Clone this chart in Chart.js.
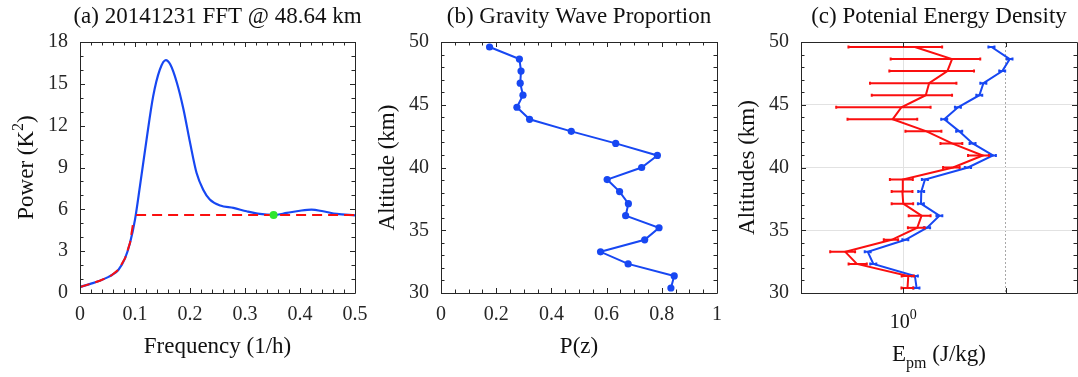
<!DOCTYPE html>
<html>
<head>
<meta charset="utf-8">
<script src="https://cdn.jsdelivr.net/npm/chart.js@4.4.1/dist/chart.umd.min.js"></script>
<style>
  html, body { margin: 0; padding: 0; background: #fff; }
  body { width: 1078px; height: 377px; position: relative; overflow: hidden; }
  canvas { position: absolute; top: 0; }
</style>
</head>
<body>
<canvas id="fft" style="left:0px" width="380" height="377"></canvas>
<canvas id="prop" style="left:361px" width="380" height="377"></canvas>
<canvas id="epm" style="left:721px" width="357" height="377"></canvas>
<script>
// (a) FFT spectrum
const freqA = [0, 0.02, 0.036, 0.05, 0.058, 0.07, 0.082, 0.091, 0.1, 0.109, 0.121, 0.133, 0.145, 0.156,
  0.164, 0.176, 0.188, 0.2, 0.212, 0.224, 0.236, 0.255, 0.279, 0.303, 0.327, 0.352, 0.376, 0.4, 0.421,
  0.442, 0.467, 0.5];
const powerA = [0.43, 0.67, 0.88, 1.12, 1.29, 1.67, 2.5, 3.6, 5.26, 7.66, 11.0, 14.1, 16.0, 16.7,
  16.4, 15.1, 13.2, 10.8, 8.6, 7.4, 6.7, 6.27, 6.1, 5.86, 5.67, 5.6, 5.74, 5.9, 5.98,
  5.86, 5.67, 5.57];
const cutFreqA = [0, 0.02, 0.036, 0.05, 0.058, 0.07, 0.082, 0.091, 0.097, null, 0.102, 0.5];
const cutPowerA = [0.43, 0.67, 0.88, 1.12, 1.29, 1.67, 2.5, 3.6, 5.14, null, 5.6, 5.6];
const markA = [0.352, 5.6];

// (b) gravity wave proportion
const altitudes = [30.40, 31.36, 32.32, 33.28, 34.24, 35.20, 36.16, 37.12, 38.08, 39.04, 40.00,
  40.96, 41.92, 42.88, 43.84, 44.80, 45.76, 46.72, 47.68, 48.64, 49.60];
const propB = [0.833, 0.845, 0.678, 0.578, 0.738, 0.79, 0.669, 0.679, 0.647, 0.602, 0.727,
  0.784, 0.633, 0.472, 0.321, 0.275, 0.297, 0.287, 0.29, 0.284, 0.176];

// (c) potential energy density
const epmBlue = [1.35, 1.30, 0.51, 0.45, 1.05, 1.71, 2.26, 1.49, 1.50, 1.63, 4.3,
  7.55, 4.77, 3.53, 2.52, 3.43, 5.55, 6.08, 9.3, 11.0, 7.3];
const epmBlueLo = [1.26, 1.21, 0.475, 0.42, 0.98, 1.59, 2.11, 1.39, 1.40, 1.52, 4.0,
  7.05, 4.45, 3.29, 2.35, 3.2, 5.18, 5.67, 8.68, 10.3, 6.8];
const epmBlueHi = [1.44, 1.39, 0.545, 0.48, 1.12, 1.83, 2.41, 1.59, 1.60, 1.74, 4.6,
  8.05, 5.09, 3.77, 2.69, 3.66, 5.92, 6.49, 9.92, 11.7, 7.8];
const epmRed = [1.10, 1.12, 0.352, 0.271, 0.77, 1.37, 1.51, 1.0, 0.98, 0.99, 3.07,
  6.0, 3.0, 1.69, 0.787, 0.96, 1.66, 1.79, 2.70, 3.0, 1.30];
const epmRedLo = [0.96, 0.965, 0.292, 0.193, 0.645, 1.11, 1.13, 0.77, 0.77, 0.74, 2.45,
  4.3, 2.31, 1.05, 0.285, 0.221, 0.492, 0.473, 0.731, 0.753, 0.291];
const epmRedHi = [1.25, 1.27, 0.44, 0.338, 0.89, 1.62, 1.85, 1.25, 1.23, 1.24, 3.56,
  6.88, 3.78, 2.36, 1.37, 1.85, 3.0, 3.31, 4.92, 5.66, 2.40];
const ticksC = [1, 10];

const SERIF = '"Liberation Serif", "Times New Roman", serif';
const INK = '#262626';
const BLUE = '#1747f2';
const RED = '#fa0f0f';

function pts(xs, ys) {
  return xs.map((x, i) => ({ x: x, y: ys[i] }));
}

// draw a run of text pieces with their own size and vertical shift
function drawParts(ctx, parts, x, y) {
  let total = 0;
  parts.forEach(p => {
    ctx.font = p.size + 'px ' + SERIF;
    p.w = ctx.measureText(p.t).width;
    total += p.w;
  });
  let cx = x - total / 2;
  parts.forEach(p => {
    ctx.font = p.size + 'px ' + SERIF;
    ctx.fillText(p.t, cx, y + (p.dy || 0));
    cx += p.w;
  });
}

const labels = {
  id: 'labels',
  afterDraw(chart, args, opts) {
    const { ctx, chartArea: a } = chart;
    const mid = (a.left + a.right) / 2;
    ctx.save();
    ctx.fillStyle = '#111';
    ctx.textAlign = 'left';
    ctx.textBaseline = 'alphabetic';
    drawParts(ctx, [{ t: opts.title, size: 23 }], mid, 23);
    drawParts(ctx, opts.xlabel, mid, opts.xlabelY || 353);
    if (opts.xtick) drawParts(ctx, opts.xtick.parts, chart.scales.x.getPixelForValue(opts.xtick.value), 328);
    ctx.translate(a.left - 47, (a.top + a.bottom) / 2);
    ctx.rotate(-Math.PI / 2);
    drawParts(ctx, opts.ylabel, 0, 0);
    ctx.restore();
  }
};

// box with inward ticks on all four sides
const frame = {
  id: 'frame',
  afterDraw(chart, args, opts) {
    const { ctx, chartArea: a, scales: { x, y } } = chart;
    ctx.save();
    ctx.strokeStyle = INK;
    ctx.lineWidth = 1;
    ctx.beginPath();
    const tick = (px, horiz, len) => {
      if (horiz) {
        ctx.moveTo(px, a.bottom); ctx.lineTo(px, a.bottom - len);
        ctx.moveTo(px, a.top); ctx.lineTo(px, a.top + len);
      } else {
        ctx.moveTo(a.left, px); ctx.lineTo(a.left + len, px);
        ctx.moveTo(a.right, px); ctx.lineTo(a.right - len, px);
      }
    };
    const xs = opts.xMajor || x.ticks.map(t => t.value);
    xs.forEach(v => tick(Math.round(x.getPixelForValue(v)) + 0.5, true, 5));
    y.ticks.forEach(t => tick(Math.round(y.getPixelForValue(t.value)) + 0.5, false, 5));
    if (opts.xMinor) {
      for (let v = x.min; v <= x.max + 1e-9; v += opts.xMinor) tick(Math.round(x.getPixelForValue(v)) + 0.5, true, 3.5);
    }
    if (opts.yMinor) {
      for (let v = y.min; v <= y.max + 1e-9; v += opts.yMinor) tick(Math.round(y.getPixelForValue(v)) + 0.5, false, 3.5);
    }
    ctx.rect(Math.round(a.left) + 0.5, Math.round(a.top) + 0.5, Math.round(a.right - a.left), Math.round(a.bottom - a.top));
    ctx.stroke();
    ctx.restore();
  }
};

const errorBars = {
  id: 'errorBars',
  afterDatasetDraw(chart, args) {
    const ds = chart.data.datasets[args.index];
    if (!ds.lo) return;
    const { ctx, scales: { x, y } } = chart;
    ctx.save();
    ctx.strokeStyle = ds.borderColor;
    ctx.lineWidth = 2;
    ctx.beginPath();
    ds.lo.forEach((lo, i) => {
      const yy = y.getPixelForValue(ds.data[i].y);
      const x0 = x.getPixelForValue(lo);
      const x1 = x.getPixelForValue(ds.hi[i]);
      ctx.moveTo(x0, yy); ctx.lineTo(x1, yy);
      ctx.moveTo(x0, yy - 1.5); ctx.lineTo(x0, yy + 1.5);
      ctx.moveTo(x1, yy - 1.5); ctx.lineTo(x1, yy + 1.5);
    });
    ctx.stroke();
    ctx.restore();
  }
};

const tickFont = { family: SERIF, size: 20 };
const plainNum = v => String(+Number(v).toFixed(2));

function axis(extra, fitW, fitH) {
  return Object.assign({
    grid: { display: false, drawTicks: false },
    border: { display: false },
    afterFit(s) { if (fitW) s.width = fitW; if (fitH) s.height = fitH; }
  }, extra);
}

function baseOptions(padRight) {
  return {
    responsive: false,
    animation: false,
    events: [],
    layout: { autoPadding: false, padding: { left: 0, right: padRight, top: 42, bottom: 0 } },
    plugins: { legend: { display: false }, tooltip: { enabled: false } }
  };
}

// (a)
const optA = baseOptions(25);
optA.scales = {
  x: axis({ type: 'linear', min: 0, max: 0.5,
    ticks: { stepSize: 0.1, padding: 10, maxRotation: 0, color: INK, font: tickFont, callback: plainNum } }, 0, 84),
  y: axis({ type: 'linear', min: 0, max: 18,
    ticks: { stepSize: 3, padding: 12, color: INK, font: tickFont } }, 80, 0)
};
optA.plugins.frame = { xMinor: 0.02, yMinor: 1 };
optA.plugins.labels = {
  title: '(a) 20141231 FFT @ 48.64 km',
  xlabel: [{ t: 'Frequency (1/h)', size: 23 }],
  ylabel: [{ t: 'Power (K', size: 23 }, { t: '2', size: 16, dy: -10 }, { t: ')', size: 23 }]
};
new Chart(document.getElementById('fft'), {
  type: 'scatter',
  data: {
    datasets: [
      { data: [{ x: markA[0], y: markA[1] }], pointRadius: 4, pointBackgroundColor: '#2ee62e',
        pointBorderWidth: 0, showLine: false, order: 0 },
      { data: pts(cutFreqA, cutPowerA), showLine: true, borderColor: RED, borderWidth: 2,
        borderDash: [10, 6], pointRadius: 0, spanGaps: false, order: 1 },
      { data: pts(freqA, powerA), showLine: true, borderColor: BLUE, borderWidth: 2.2,
        cubicInterpolationMode: 'monotone', pointRadius: 0, order: 2 }
    ]
  },
  options: optA,
  plugins: [frame, labels]
});

// (b)
const optB = baseOptions(24);
optB.scales = {
  x: axis({ type: 'linear', min: 0, max: 1,
    ticks: { stepSize: 0.2, padding: 10, maxRotation: 0, color: INK, font: tickFont, callback: plainNum } }, 0, 84),
  y: axis({ type: 'linear', min: 30, max: 50,
    ticks: { stepSize: 5, padding: 12, color: INK, font: tickFont } }, 80, 0)
};
optB.plugins.frame = { xMinor: 0.05, yMinor: 1 };
optB.plugins.labels = {
  title: '(b) Gravity Wave Proportion',
  xlabel: [{ t: 'P(z)', size: 23 }],
  ylabel: [{ t: 'Altitude (km)', size: 23 }]
};
new Chart(document.getElementById('prop'), {
  type: 'scatter',
  data: {
    datasets: [
      { data: pts(propB, altitudes), showLine: true, borderColor: BLUE, borderWidth: 2,
        pointRadius: 3.6, pointBackgroundColor: BLUE, pointBorderWidth: 0 }
    ]
  },
  options: optB,
  plugins: [frame, labels]
});

// (c)
const optC = baseOptions(1);
optC.scales = {
  x: axis({ type: 'logarithmic', min: 0.1, max: 50,
    afterBuildTicks(s) { s.ticks = ticksC.map(v => ({ value: v })); },
    ticks: { display: false },
    grid: { display: true, drawTicks: false, lineWidth: 1,
      color: c => (c.tick && c.tick.value === 10 ? '#a8a8a8' : '#e2e2e2') },
    border: { display: false, dash: c => (c.tick && c.tick.value === 10 ? [2, 2] : []) } }, 0, 84),
  y: axis({ type: 'linear', min: 30, max: 50,
    ticks: { stepSize: 5, padding: 12, color: INK, font: tickFont },
    grid: { display: true, drawTicks: false, color: '#e2e2e2', lineWidth: 1 } }, 80, 0)
};
optC.plugins.frame = { xMajor: ticksC, yMinor: 1 };
optC.plugins.labels = {
  title: '(c) Potenial Energy Density',
  xlabel: [{ t: 'E', size: 23 }, { t: 'pm', size: 16, dy: 7 }, { t: ' (J/kg)', size: 23 }],
  xlabelY: 361,
  xtick: { value: 1, parts: [{ t: '10', size: 20 }, { t: '0', size: 14, dy: -9 }] },
  ylabel: [{ t: 'Altitudes (km)', size: 23 }]
};
new Chart(document.getElementById('epm'), {
  type: 'scatter',
  data: {
    datasets: [
      { data: pts(epmRed, altitudes), lo: epmRedLo, hi: epmRedHi, showLine: true,
        borderColor: RED, borderWidth: 2, pointRadius: 0, order: 0 },
      { data: pts(epmBlue, altitudes), lo: epmBlueLo, hi: epmBlueHi, showLine: true,
        borderColor: BLUE, borderWidth: 2, pointRadius: 0, order: 1 }
    ]
  },
  options: optC,
  plugins: [errorBars, frame, labels]
});
</script>
</body>
</html>
